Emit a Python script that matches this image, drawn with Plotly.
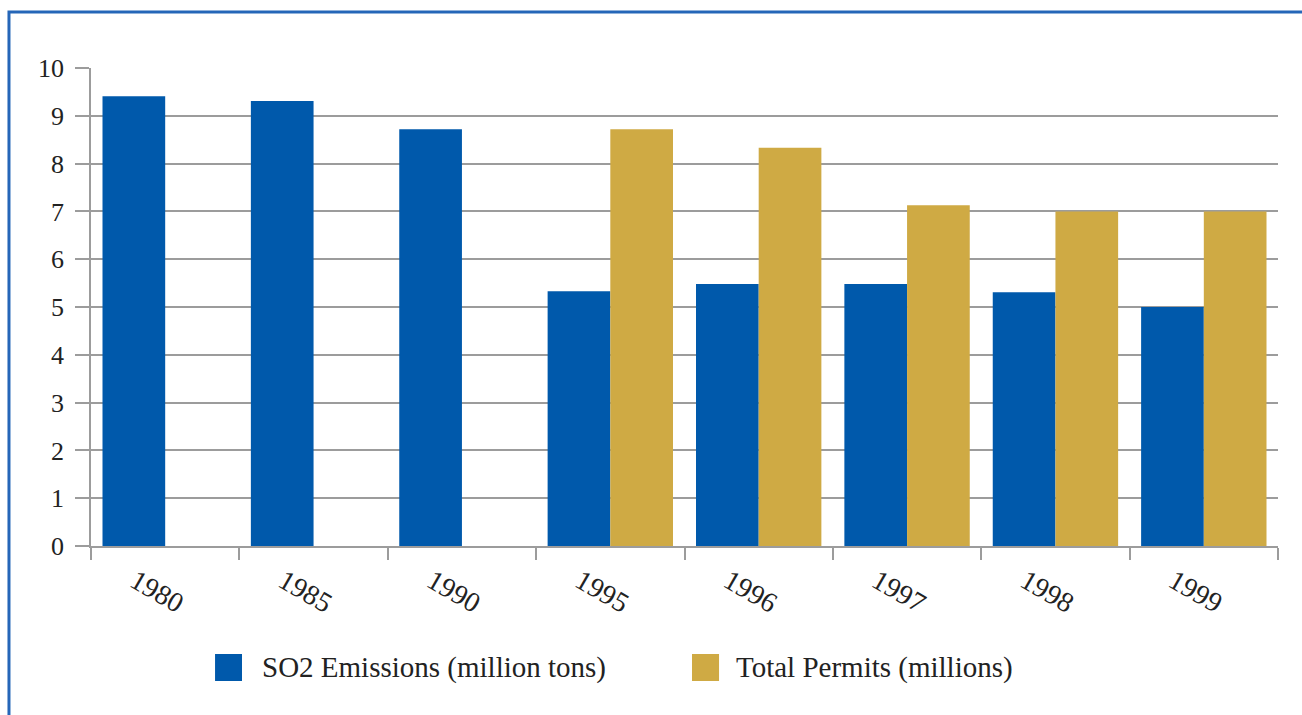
import plotly.graph_objects as go

years = ["1980", "1985", "1990", "1995", "1996", "1997", "1998", "1999"]
so2_emissions = [9.41, 9.31, 8.72, 5.33, 5.48, 5.48, 5.31, 5.0]
total_permits = [None, None, None, 8.72, 8.33, 7.13, 7.0, 7.0]
y_ticks = [0, 1, 2, 3, 4, 5, 6, 7, 8, 9, 10]
series_names = ["SO2 Emissions (million tons)", "Total Permits (millions)"]

BLUE = "#0059AB"
GOLD = "#CFAA44"
GRID = "#9C9C9C"
TEXT = "#222222"
FONT = "Liberation Serif"

fig = go.Figure()
fig.add_trace(go.Bar(x=years, y=so2_emissions, name=series_names[0],
                     marker=dict(color=BLUE, line=dict(width=0)), showlegend=False))
fig.add_trace(go.Bar(x=years, y=total_permits, name=series_names[1],
                     marker=dict(color=GOLD, line=dict(width=0)), showlegend=False))

# legend drawn as swatches + labels below the plot
legend_items = [
    (series_names[0], BLUE, 0.1045, 0.1272, 0.1425),
    (series_names[1], GOLD, 0.5063, 0.5291, 0.5420),
]
shapes = [dict(type="rect", xref="paper", yref="paper",
               x0=-0.0691, x1=1.2, y0=-0.6, y1=1.1172,
               line=dict(color="#2566B8", width=3), fillcolor="rgba(0,0,0,0)", layer="below")]
annotations = []
for name, color, sx0, sx1, tx in legend_items:
    shapes.append(dict(type="rect", xref="paper", yref="paper",
                       x0=sx0, x1=sx1, y0=-0.2824, y1=-0.2259,
                       line=dict(width=0), fillcolor=color))
    annotations.append(dict(xref="paper", yref="paper", x=tx, y=-0.2552,
                            xanchor="left", yanchor="middle", showarrow=False,
                            text=name, font=dict(family=FONT, size=29, color=TEXT)))

fig.update_layout(
    width=1302, height=715,
    margin=dict(l=91, r=24, t=68, b=169),
    paper_bgcolor="white", plot_bgcolor="white",
    barmode="group", bargap=0.155, bargroupgap=0,
    font=dict(family=FONT, size=25, color=TEXT),
    showlegend=False,
    shapes=shapes,
    annotations=annotations,
)
fig.update_xaxes(
    type="category", tickangle=30, tickson="boundaries",
    ticks="outside", ticklen=12, tickcolor=GRID, tickwidth=1.5,
    showline=True, linecolor=GRID, linewidth=1.5,
    showgrid=False, ticklabelshift=-30, ticklabelstandoff=6,
    tickfont=dict(family=FONT, size=28, color=TEXT),
)
fig.update_yaxes(
    range=[0, 10], tickvals=y_ticks, ticks="outside", ticklen=14, tickcolor=GRID, tickwidth=1.5,
    showline=True, linecolor=GRID, linewidth=1.5,
    showgrid=True, gridcolor=GRID, gridwidth=1.5, zeroline=False,
    ticklabelstandoff=6,
    tickfont=dict(family=FONT, size=26, color=TEXT),
)

fig.write_html("out.html", config={"displayModeBar": False},
               post_script="document.body.style.margin='0px';document.body.style.overflow='hidden';")
